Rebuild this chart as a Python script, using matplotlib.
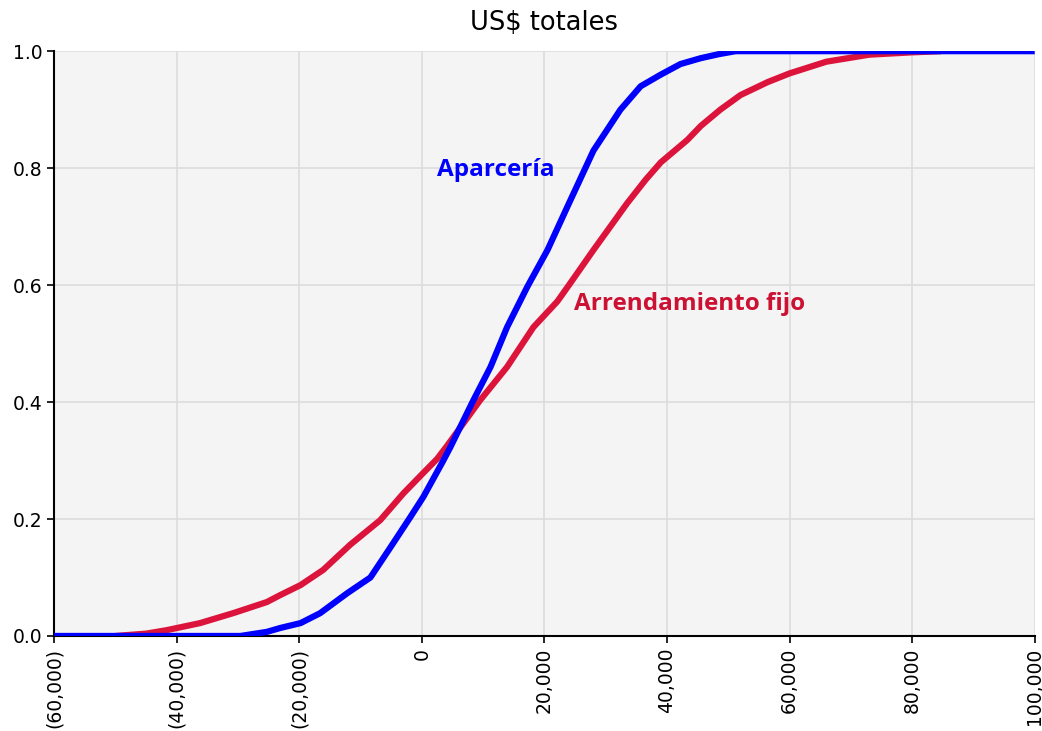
import matplotlib
matplotlib.use("Agg")
import matplotlib.pyplot as plt
from matplotlib.ticker import FuncFormatter

plt.rcParams["font.family"] = ["DejaVu Sans"]

# Curvas acumuladas (US$, probabilidad acumulada)
apar_x = [-60000, -29600, -25300, -23100, -19800, -16600, -12200, -8400,
          -5100, -1900, 250, 3500, 4650, 8400, 11200, 13900, 17200, 20500,
          23700, 28000, 32400, 35700, 39000, 42200, 45500, 48500, 51200, 100000]
apar_y = [0.0, 0.0, 0.007, 0.0137, 0.022, 0.039, 0.073, 0.10,
          0.152, 0.203, 0.238, 0.30, 0.323, 0.403, 0.46, 0.528, 0.597, 0.66,
          0.733, 0.83, 0.90, 0.94, 0.96, 0.978, 0.988, 0.995, 1.0, 1.0]

arr_x = [-50000, -45000, -41600, -36200, -30800, -25300, -23100, -19800,
         -16100, -11700, -6800, -3000, 250, 2500, 4100, 9500, 13900, 18200,
         22100, 24200, 28000, 33500, 36500, 39000, 43300, 45500, 48700, 52000,
         56400, 60000, 66000, 73000, 80000, 84700]
arr_y = [0.0, 0.004, 0.01, 0.022, 0.039, 0.058, 0.07, 0.087,
         0.113, 0.156, 0.198, 0.244, 0.279, 0.303, 0.325, 0.403, 0.46, 0.528,
         0.572, 0.603, 0.66, 0.74, 0.78, 0.81, 0.848, 0.872, 0.90, 0.925,
         0.947, 0.962, 0.982, 0.994, 0.998, 1.0]

x_ticks = [-60000, -40000, -20000, 0, 20000, 40000, 60000, 80000, 100000]
y_ticks = [0.0, 0.2, 0.4, 0.6, 0.8, 1.0]


def fmt_money(v, pos):
    if v < 0:
        return f"({abs(v):,.0f})"
    return f"{v:,.0f}"


fig = plt.figure(figsize=(10.42, 7.31), dpi=100)
ax = fig.add_axes([0.052, 0.13, 0.941, 0.8])

ax.set_facecolor("#f4f4f4")
ax.grid(True, color="#dcdcdc", lw=1.2)
ax.set_axisbelow(True)

ax.plot(arr_x, arr_y, color="#dc143c", lw=4.5, solid_capstyle="butt", zorder=3)
ax.plot(apar_x, apar_y, color="#0000ff", lw=4.5, solid_capstyle="butt", zorder=4)

ax.text(2500, 0.797, "Aparcería", color="#0000ff", fontsize=17.5,
        fontweight="bold", family=["Open Sans", "DejaVu Sans"], va="center")
ax.text(24800, 0.567, "Arrendamiento fijo", color="#cc1133", fontsize=17.5,
        fontweight="bold", family=["Open Sans", "DejaVu Sans"], va="center")

ax.set_xlim(-60000, 100000)
ax.set_ylim(0, 1.0)
ax.set_xticks(x_ticks)
ax.set_yticks(y_ticks)
ax.xaxis.set_major_formatter(FuncFormatter(fmt_money))
ax.yaxis.set_major_formatter(FuncFormatter(lambda v, p: f"{v:.1f}"))
ax.tick_params(axis="x", labelrotation=90, labelsize=13.5, length=5, width=1.2)
ax.tick_params(axis="y", labelsize=13.5, length=5, width=1.2)

for s in ["top", "right"]:
    ax.spines[s].set_visible(False)
ax.spines["left"].set_linewidth(1.5)
ax.spines["bottom"].set_linewidth(1.5)

ax.set_title("US$ totales", fontsize=18.5, pad=15)

fig.savefig("out.png", dpi=100)
